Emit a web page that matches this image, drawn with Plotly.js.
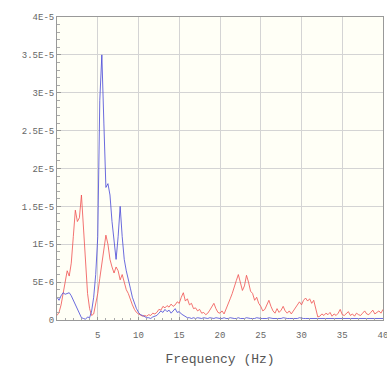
<!DOCTYPE html>
<html>
<head>
<meta charset="utf-8">
<script src="https://cdn.plot.ly/plotly-3.0.1.min.js"></script>
<style>html,body{margin:0;padding:0;background:#fff;}#chart{width:387px;height:368px;}</style>
</head>
<body>
<div id="chart"></div>
<script>
// Frequency (Hz)
const freq = [0,0.25,0.5,0.75,1,1.25,1.5,1.75,2,2.25,2.5,2.75,3,3.25,3.5,3.75,4,4.25,4.5,4.75,5,5.25,5.5,5.75,6,6.25,6.5,6.75,7,7.25,7.5,7.75,8,8.25,8.5,8.75,9,9.25,9.5,9.75,10,10.25,10.5,10.75,11,11.25,11.5,11.75,12,12.25,12.5,12.75,13,13.25,13.5,13.75,14,14.25,14.5,14.75,15,15.25,15.5,15.75,16,16.25,16.5,16.75,17,17.25,17.5,17.75,18,18.25,18.5,18.75,19,19.25,19.5,19.75,20,20.25,20.5,20.75,21,21.25,21.5,21.75,22,22.25,22.5,22.75,23,23.25,23.5,23.75,24,24.25,24.5,24.75,25,25.25,25.5,25.75,26,26.25,26.5,26.75,27,27.25,27.5,27.75,28,28.25,28.5,28.75,29,29.25,29.5,29.75,30,30.25,30.5,30.75,31,31.25,31.5,31.75,32,32.25,32.5,32.75,33,33.25,33.5,33.75,34,34.25,34.5,34.75,35,35.25,35.5,35.75,36,36.25,36.5,36.75,37,37.25,37.5,37.75,38,38.25,38.5,38.75,39,39.25,39.5,39.75,40];
// amplitudes in units of 1E-6
const blueSeries = [3.0,2.6,3.2,3.6,3.4,3.5,3.6,3.2,2.6,2.0,1.3,0.7,0.3,0.2,0.1,0.4,0.3,1.2,3.0,6.0,11,29,35,26,17.5,18,16.5,13,10,8,11,15,11,8,6.5,5.5,4.2,3.0,2.2,1.5,1.0,0.7,0.6,0.4,0.3,0.3,0.2,0.4,0.5,0.6,0.9,1.2,1.0,1.4,1.1,1.3,0.9,1.2,1.5,1.0,1.1,0.8,0.6,0.5,0.3,0.3,0.2,0.3,0.2,0.3,0.2,0.2,0.3,0.2,0.2,0.3,0.2,0.2,0.3,0.2,0.2,0.2,0.3,0.2,0.2,0.3,0.2,0.2,0.2,0.3,0.2,0.2,0.2,0.3,0.2,0.2,0.2,0.2,0.3,0.2,0.2,0.2,0.2,0.2,0.3,0.2,0.2,0.2,0.2,0.2,0.2,0.3,0.2,0.2,0.2,0.2,0.2,0.2,0.2,0.3,0.2,0.2,0.2,0.2,0.2,0.2,0.2,0.2,0.2,0.2,0.2,0.2,0.2,0.2,0.2,0.2,0.2,0.2,0.2,0.2,0.2,0.2,0.2,0.2,0.2,0.2,0.2,0.2,0.2,0.2,0.2,0.2,0.2,0.2,0.2,0.2,0.2,0.2,0.2,0.2,0.2];
const redSeries = [0.6,1.0,2.0,3.5,5.0,6.5,5.8,7.5,11,14.5,13.0,13.5,16.5,12,7,3.5,1.5,0.6,0.8,2.0,3.5,5.5,7.5,9.5,11.2,10,8,7,6.2,7.0,6.5,5.3,6.0,5.0,4.0,3.5,2.6,2.0,1.4,1.0,0.8,0.6,0.5,0.6,0.5,0.7,0.6,0.9,0.8,1.0,1.4,1.3,1.8,1.6,1.9,1.7,2.1,1.8,2.0,2.4,2.2,3.0,3.6,2.5,2.8,2.0,2.2,1.5,1.6,1.2,1.4,0.9,1.0,0.7,0.9,1.3,1.8,2.2,1.5,1.0,0.9,1.2,0.8,1.4,2.0,2.8,3.5,4.5,5.2,6.0,4.8,3.9,4.5,5.9,5.0,3.8,3.5,2.6,3.0,2.2,1.8,1.2,1.4,2.0,2.6,1.8,1.2,0.9,1.5,1.0,1.3,1.8,1.2,0.9,1.2,0.8,1.2,1.6,1.9,2.4,2.0,2.6,2.9,2.5,2.8,2.2,2.6,1.4,0.4,0.5,0.8,0.6,0.9,0.7,1.0,0.5,0.8,0.6,0.9,1.4,0.7,0.6,0.9,1.1,0.6,0.8,0.5,0.9,0.7,0.6,0.9,1.2,0.8,0.7,1.0,1.3,0.8,1.0,1.2,0.9,1.4];
const yTickVals = [0,5,10,15,20,25,30,35,40];
const yTickText = ['0','5E-6','1E-5','1.5E-5','2E-5','2.5E-5','3E-5','3.5E-5','4E-5'];
const xTickVals = [5,10,15,20,25,30,35,40];
const xTickText = ['5','10','15','20','25','30','35','40'];

const traces = [
  {x: freq, y: redSeries, type:'scatter', mode:'lines', line:{color:'rgba(240,80,80,0.8)', width:1}, hoverinfo:'skip'},
  {x: freq, y: blueSeries, type:'scatter', mode:'lines', line:{color:'rgba(70,70,215,0.8)', width:1}, hoverinfo:'skip'}
];
const tickFont = {family:'Liberation Mono, DejaVu Sans Mono, monospace', size:9, color:'#666'};
const layout = {
  width:387, height:368,
  margin:{l:57, r:4, t:17, b:48},
  paper_bgcolor:'#ffffff',
  plot_bgcolor:'#fffff6',
  showlegend:false,
  xaxis:{
    range:[0,40], tickmode:'array', tickvals:xTickVals, ticktext:xTickText,
    showgrid:true, gridcolor:'#d4d4d4', gridwidth:1,
    showline:true, linecolor:'#999', linewidth:1, mirror:true,
    ticks:'inside', ticklen:3, tickcolor:'#999',
    minor:{dtick:1, tick0:0, ticks:'inside', ticklen:2, tickcolor:'#aaa', showgrid:false},
    zeroline:false, tickfont:tickFont, ticklabeloverflow:'allow', ticklabelstandoff:6,
    title:{text:'Frequency (Hz)', font:{family:'Liberation Mono, DejaVu Sans Mono, monospace', size:13, color:'#555'}, standoff:14}
  },
  yaxis:{
    range:[0,40], tickmode:'array', tickvals:yTickVals, ticktext:yTickText,
    showgrid:true, gridcolor:'#d4d4d4', gridwidth:1,
    showline:true, linecolor:'#999', linewidth:1, mirror:true,
    ticks:'inside', ticklen:4, tickcolor:'#999',
    minor:{dtick:1, tick0:0, ticks:'inside', ticklen:3, tickcolor:'#aaa', showgrid:false},
    zeroline:false, tickfont:tickFont
  }
};
Plotly.newPlot('chart', traces, layout, {staticPlot:true, displayModeBar:false});
</script>
</body>
</html>
